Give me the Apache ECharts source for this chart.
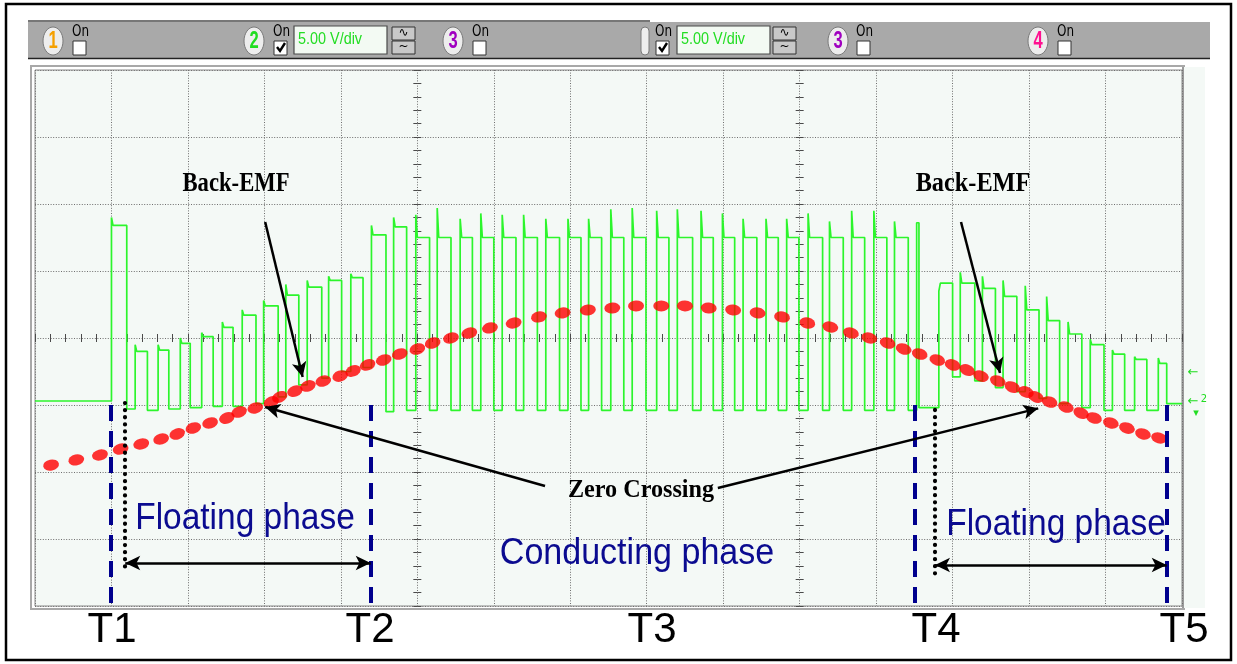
<!DOCTYPE html>
<html>
<head>
<meta charset="utf-8">
<title>Floating phase / back-EMF</title>
<script src="https://cdn.jsdelivr.net/npm/echarts@6/dist/echarts.min.js"></script>
<style>
html, body { margin: 0; padding: 0; background: #fff; }
#chart { width: 1237px; height: 664px; }
</style>
</head>
<body>
<div id="chart"></div>
<script>
// channel 2 trace, time in divisions (15 div), volts at 5 V/div
var pulseRise = [1.00, 1.31, 1.61, 1.90, 2.18, 2.45, 2.71, 2.99, 3.28, 3.56, 3.84, 4.13, 4.40, 4.69, 4.98,
    5.26, 5.56, 5.83, 6.11, 6.39, 6.68, 6.97, 7.24, 7.53, 7.81, 8.13, 8.40, 8.71, 8.99, 9.26,
    9.56, 9.83, 10.11, 10.39, 10.68, 10.97, 11.24, 11.53, 11.82, 12.10, 12.39, 12.66, 12.95, 13.23, 13.51,
    13.80, 14.09, 14.38, 14.69];
var pulseFall = [1.20, 1.47, 1.75, 2.03, 2.33, 2.59, 2.89, 3.18, 3.45, 3.75, 4.01, 4.29, 4.59, 4.86, 5.16,
    5.44, 5.72, 6.00, 6.29, 6.57, 6.86, 7.14, 7.41, 7.70, 7.99, 8.29, 8.60, 8.87, 9.15, 9.44,
    9.72, 9.99, 10.30, 10.57, 10.85, 11.14, 11.42, 11.56, 12.00, 12.29, 12.56, 12.84, 13.13, 13.40, 13.69,
    13.98, 14.25, 14.54, 14.80];
var pulseHigh = [13.4, 4.0, 4.1, 4.6, 5.1, 5.8, 6.7, 7.4, 8.2, 8.8, 9.3, 9.5, 12.7, 13.3, 12.5,
    12.5, 12.5, 12.5, 12.5, 12.5, 12.5, 12.5, 12.5, 12.5, 12.5, 12.5, 12.5, 12.5, 12.5, 12.5,
    12.5, 12.5, 12.5, 12.5, 12.5, 12.5, 12.5, 13.6, 9.1, 9.1, 8.7, 8.1, 7.1, 6.3, 5.3,
    4.5, 3.8, 3.4, 3.1];
var pulseSpike = [14.0, 4.5, 4.5, 5.0, 5.4, 6.2, 7.1, 7.8, 9.0, 9.3, 9.6, 9.8, 13.4, 14.0, 14.2,
    14.7, 13.9, 14.3, 14.2, 14.2, 13.9, 13.9, 13.9, 14.6, 14.7, 14.5, 14.6, 14.5, 14.3, 13.9,
    13.9, 13.9, 14.3, 13.7, 14.5, 14.5, 13.7, 13.6, 8.5, 9.9, 9.6, 9.3, 8.9, 8.1, 6.2,
    4.9, 4.1, 3.6, 3.5];
var pulseLow = [-0.3, -0.4, -0.3, -0.2, -0.1, -0.1, 0.1, 0.6, 1.5, 2.0, 2.5, 2.8, -0.5, -0.4, -0.4,
    -0.4, -0.4, -0.4, -0.4, -0.4, -0.4, -0.4, -0.4, -0.4, -0.4, -0.4, -0.4, -0.4, -0.4, -0.4,
    -0.4, -0.4, -0.4, -0.4, -0.4, -0.4, -0.4, -0.2, 2.1, 1.8, 1.3, 1.0, 0.5, 0.1, -0.2,
    -0.4, -0.4, -0.4, 0.1];
var startLevel = 0.3;

// red dotted back-EMF sketch
var bemfTime = [0.21, 0.54, 0.85, 1.12, 1.39, 1.65, 1.86, 2.07, 2.29, 2.51, 2.67, 2.88, 3.09, 3.20, 3.40,
    3.57, 3.77, 3.99, 4.16, 4.35, 4.56, 4.77, 5.00, 5.20, 5.44, 5.68, 5.95, 6.26, 6.59, 6.90,
    7.23, 7.55, 7.86, 8.19, 8.50, 8.81, 9.13, 9.45, 9.77, 10.10, 10.40, 10.67, 10.91, 11.15, 11.36,
    11.57, 11.80, 12.00, 12.19, 12.37, 12.59, 12.78, 12.96, 13.09, 13.27, 13.48, 13.68, 13.85, 14.07, 14.28,
    14.49, 14.70];
var bemfVolt = [-4.48, -4.10, -3.73, -3.28, -2.91, -2.54, -2.16, -1.72, -1.34, -0.97, -0.52, -0.22, 0.22, 0.60, 1.04,
    1.42, 1.79, 2.16, 2.54, 2.99, 3.36, 3.81, 4.18, 4.63, 5.00, 5.37, 5.75, 6.12, 6.57, 6.87,
    7.09, 7.24, 7.39, 7.39, 7.39, 7.24, 7.09, 6.87, 6.57, 6.12, 5.82, 5.37, 5.00, 4.63, 4.18,
    3.81, 3.36, 2.99, 2.61, 2.16, 1.79, 1.34, 0.97, 0.60, 0.22, -0.15, -0.60, -0.97, -1.34, -1.72,
    -2.16, -2.46];

// commutation instants (div) marked by dashed lines
var commTimes = [0.99, 4.39, 11.51, 14.80];
var floatStart = [1.18, 11.77];
var floatEnd = [4.39, 14.80];

var chart = echarts.init(document.getElementById('chart'));

var wave = [[0, startLevel]];
var prev = startLevel;
for (var i = 0; i < pulseRise.length; i++) {
    wave.push([pulseRise[i], prev]);
    wave.push([pulseRise[i], pulseSpike[i]]);
    wave.push([pulseRise[i] + 0.02, pulseHigh[i]]);
    wave.push([pulseFall[i], pulseHigh[i]]);
    wave.push([pulseFall[i], pulseLow[i]]);
    prev = pulseLow[i];
}
wave.push([15, prev]);

var pxDiv = 1147 / 15, pxVolt = 536 / 40;
var bemfData = bemfTime.map(function (t, i) {
    var a = Math.max(i - 1, 0), b = Math.min(i + 1, bemfTime.length - 1);
    var ang = Math.atan2((bemfVolt[b] - bemfVolt[a]) * pxVolt, (bemfTime[b] - bemfTime[a]) * pxDiv) * 180 / Math.PI;
    return { value: [t, bemfVolt[i]], symbolRotate: ang };
});

var navy = '#0b0b90';
var marks = [];
commTimes.forEach(function (t) {
    marks.push([{ coord: [t, 0], symbol: 'none', lineStyle: { color: '#00008e', width: 4, type: [16, 10] } },
        { coord: [t, -15], symbol: 'none' }]);
});
[[1.18, 0.15, -12.46], [11.77, -0.37, -12.91]].forEach(function (d) {
    marks.push([{ coord: [d[0], d[1]], symbol: 'none', lineStyle: { color: '#000', width: 4.2, type: [0.1, 7], cap: 'round' } },
        { coord: [d[0], d[2]], symbol: 'none' }]);
});
function arrow(x1, y1, x2, y2, both) {
    return [{ coord: [x1, y1], symbol: both ? 'arrow' : 'none', symbolSize: [11, 15], lineStyle: { color: '#000', width: 2.5, type: 'solid' } },
        { coord: [x2, y2], symbol: 'arrow', symbolSize: [11, 15] }];
}
marks.push(arrow(3.01, 13.66, 3.50, 2.09));
marks.push(arrow(12.11, 13.66, 12.62, 2.39));
marks.push(arrow(6.67, -6.04, 3.01, -0.15));
marks.push(arrow(8.93, -6.19, 13.12, -0.25));
marks.push(arrow(floatStart[0], -11.79, floatEnd[0], -11.79, true));
marks.push(arrow(floatStart[1], -11.94, floatEnd[1], -11.94, true));

var hid = { axisLine: { show: false }, axisTick: { show: false }, axisLabel: { show: false }, splitLine: { show: false } };
var tickCol = { color: '#4a4a4a', width: 1 };
function tickAxis(min, max, interval, pos, onAxis, inside) {
    return {
        type: 'value', min: min, max: max, interval: interval, position: pos,
        axisLine: { show: false, onZero: true, onZeroAxisIndex: onAxis },
        axisTick: { show: true, inside: inside, length: 4, lineStyle: tickCol },
        minorTick: { show: true, splitNumber: 5, length: 4, lineStyle: tickCol },
        axisLabel: { show: false }, splitLine: { show: false }
    };
}
var gridLine = { show: true, lineStyle: { color: '#6e6e6e', width: 1, type: [1, 1.6] } };

var g = [];
function txt(s, x, y, size, color, family, weight, sx, align) {
    return {
        type: 'text', x: x, y: y, scaleX: sx || 1, z: 100,
        style: { text: s, fontSize: size, fontFamily: family, fontWeight: weight || 'normal', fill: color,
            align: align || 'center', verticalAlign: 'middle' }
    };
}
// frame and scope toolbar
g.push({ type: 'rect', z: 100, shape: { x: 6, y: 4, width: 1225, height: 656 }, style: { fill: null, stroke: '#000', lineWidth: 2.5 } });
g.push({ type: 'rect', shape: { x: 28, y: 22, width: 1182, height: 36 }, style: { fill: '#a9a9a9' } });
g.push({ type: 'line', shape: { x1: 28, y1: 21, x2: 650, y2: 21 }, style: { stroke: '#4a4a4a', lineWidth: 1.5 } });
g.push({ type: 'line', shape: { x1: 28, y1: 58.5, x2: 1210, y2: 58.5 }, style: { stroke: '#222', lineWidth: 1.5 } });
g.push({ type: 'rect', shape: { x: 31, y: 66, width: 1153, height: 543 }, style: { fill: null, stroke: '#a8a8a8', lineWidth: 2 } });
g.push({ type: 'rect', shape: { x: 1184, y: 67, width: 21, height: 541 }, style: { fill: '#f4f9f6' } });
g.push({ type: 'line', shape: { x1: 1183, y1: 67, x2: 1183, y2: 608 }, style: { stroke: '#9a9a9a', lineWidth: 2 } });

var chans = [
    { n: '1', c: '#f5a000', bx: 43, ox: 72, on: false },
    { n: '2', c: '#20dd20', bx: 244, ox: 273, on: true, box: 294, spin: 392 },
    { n: '3', c: '#a000c0', bx: 443, ox: 472, on: false },
    { n: '', c: '', bx: 641, ox: 655, on: true, box: 677, spin: 773 },
    { n: '3', c: '#a000c0', bx: 828, ox: 856, on: false },
    { n: '4', c: '#ff1090', bx: 1028, ox: 1057, on: false }
];
chans.forEach(function (ch) {
    if (ch.n) {
        g.push({ type: 'ellipse', shape: { cx: ch.bx + 10, cy: 41, rx: 10, ry: 14 }, style: { fill: '#ededed', stroke: '#7a7a7a', lineWidth: 1 } });
        g.push(txt(ch.n, ch.bx + 10, 42, 23, ch.c, 'Liberation Sans', 'bold', 0.72));
    } else {
        g.push({ type: 'rect', shape: { x: ch.bx, y: 27, width: 8, height: 28, r: 4 }, style: { fill: '#eeeeee', stroke: '#7a7a7a', lineWidth: 1 } });
    }
    g.push(txt('On', ch.ox, 32, 15, '#000', 'DejaVu Sans', 'normal', 0.8, 'left'));
    g.push({ type: 'rect', shape: { x: ch.ox + 1, y: 41, width: 13, height: 14 }, style: { fill: '#fff', stroke: '#333', lineWidth: 1 } });
    if (ch.on) {
        g.push({ type: 'polyline', shape: { points: [[ch.ox + 4, 47], [ch.ox + 7, 51], [ch.ox + 12, 43]] }, style: { stroke: '#000', lineWidth: 2.4, fill: null } });
    }
    if (ch.box) {
        g.push({ type: 'rect', shape: { x: ch.box, y: 26, width: 93, height: 28 }, style: { fill: '#f3faf3', stroke: '#4a4a4a', lineWidth: 1.2 } });
        g.push(txt('5.00 V/div', ch.box + 4, 40, 16, '#22dd22', 'Liberation Sans', 'normal', 0.9, 'left'));
        g.push({ type: 'rect', shape: { x: ch.spin, y: 27, width: 23, height: 13 }, style: { fill: '#c8c8c8', stroke: '#333', lineWidth: 1 } });
        g.push({ type: 'rect', shape: { x: ch.spin, y: 41, width: 23, height: 13 }, style: { fill: '#c8c8c8', stroke: '#333', lineWidth: 1 } });
        g.push(txt('\u223F', ch.spin + 11.5, 33, 12, '#000', 'DejaVu Sans'));
        g.push(txt('~', ch.spin + 11.5, 47, 12, '#000', 'DejaVu Sans'));
    }
});
// channel reference markers
g.push(txt('\u2190', 1193, 373, 13, '#22dd22', 'DejaVu Sans'));
g.push(txt('\u2190', 1193, 402, 13, '#22dd22', 'DejaVu Sans'));
g.push(txt('2', 1204, 399, 10, '#22dd22', 'DejaVu Sans'));
g.push(txt('\u25BE', 1196, 413, 11, '#22dd22', 'DejaVu Sans'));

// annotations
g.push(txt('Back-EMF', 236, 184, 27, '#000', 'Liberation Serif', 'bold', 0.84));
g.push(txt('Back-EMF', 973, 184, 27, '#000', 'Liberation Serif', 'bold', 0.9));
g.push(txt('Zero Crossing', 641, 490, 26, '#000', 'Liberation Serif', 'bold', 0.93));
g.push(txt('Floating phase', 245, 519, 36, navy, 'Liberation Sans', 'normal', 0.93));
g.push(txt('Floating phase', 1056, 525, 36, navy, 'Liberation Sans', 'normal', 0.93));
g.push(txt('Conducting phase', 637, 554, 37, navy, 'Liberation Sans', 'normal', 0.92));
var tLabels = ['T1', 'T2', 'T3', 'T4', 'T5'];
var tLabelX = [112, 370, 652, 936, 1184];
tLabels.forEach(function (s, i) { g.push(txt(s, tLabelX[i], 630, 42, '#000', 'Liberation Sans')); });

var option = {
    backgroundColor: '#ffffff',
    animation: false,
    grid: {
        left: 35, top: 70, width: 1147, height: 536,
        show: true, backgroundColor: '#f4f9f6', borderColor: '#8a8a8a', borderWidth: 1
    },
    xAxis: [
        { type: 'value', min: 0, max: 15, interval: 1, axisLine: { show: false }, axisTick: { show: false },
            axisLabel: { show: false }, splitLine: gridLine },
        Object.assign({ type: 'value', min: -5, max: 10 }, hid),
        Object.assign({ type: 'value', min: -10, max: 5 }, hid),
        tickAxis(0, 15, 1, 'bottom', 1, false),
        tickAxis(0, 15, 1, 'bottom', 1, true)
    ],
    yAxis: [
        { type: 'value', min: -15, max: 25, interval: 5, axisLine: { show: false }, axisTick: { show: false },
            axisLabel: { show: false }, splitLine: gridLine },
        Object.assign({ type: 'value', min: -20, max: 20 }, hid),
        tickAxis(-15, 25, 5, 'left', 1, false),
        tickAxis(-15, 25, 5, 'left', 1, true),
        tickAxis(-15, 25, 5, 'left', 2, false),
        tickAxis(-15, 25, 5, 'left', 2, true)
    ],
    graphic: g,
    series: [
        {
            name: 'CH2', type: 'line', data: wave, xAxisIndex: 0, yAxisIndex: 0,
            showSymbol: false, symbol: 'none', z: 2, silent: true,
            lineStyle: { color: '#2cf52c', width: 1.7 }
        },
        {
            name: 'Back-EMF', type: 'scatter', data: bemfData, xAxisIndex: 0, yAxisIndex: 0,
            symbol: 'circle', symbolSize: [16, 11], z: 3, silent: true,
            itemStyle: { color: '#ff0000' },
            markLine: {
                silent: true, animation: false, symbol: ['none', 'none'],
                label: { show: false }, emphasis: { disabled: true },
                data: marks
            }
        }
    ]
};
chart.setOption(option);
</script>
</body>
</html>
